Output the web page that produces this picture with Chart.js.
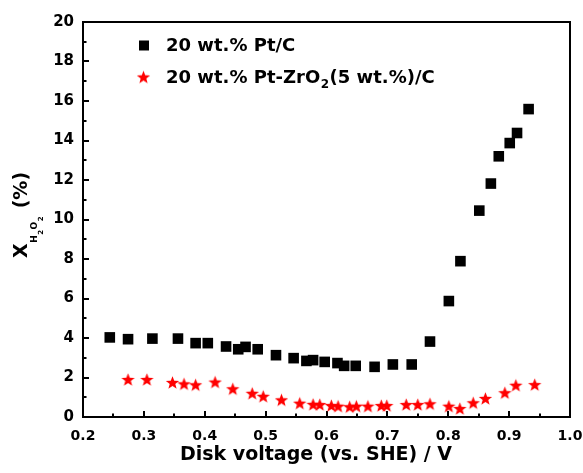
<!DOCTYPE html>
<html>
<head>
<meta charset="utf-8">
<script src="https://cdn.jsdelivr.net/npm/chart.js@4.4.0/dist/chart.umd.min.js"></script>
<style>
  html, body { margin: 0; padding: 0; background: #fff; }
  canvas { display: block; }
</style>
</head>
<body>
<canvas id="chart" width="583" height="473"></canvas>
<script>
// Pt/C (black squares)
const ptcX = [0.244, 0.274, 0.314, 0.356, 0.385, 0.405, 0.435, 0.455, 0.467, 0.487,
              0.517, 0.546, 0.567, 0.578, 0.597, 0.618, 0.629, 0.648, 0.679, 0.709,
              0.740, 0.770, 0.801, 0.820, 0.851, 0.870, 0.883, 0.901, 0.913, 0.932];
const ptcY = [4.03, 3.94, 3.97, 3.97, 3.74, 3.74, 3.57, 3.43, 3.55, 3.43,
              3.13, 2.98, 2.84, 2.88, 2.79, 2.73, 2.59, 2.59, 2.54, 2.66,
              2.66, 3.82, 5.87, 7.89, 10.45, 11.82, 13.2, 13.87, 14.38, 15.59];
// Pt-ZrO2(5 wt.%)/C (red stars)
const zrX = [0.274, 0.305, 0.347, 0.366, 0.385, 0.417, 0.446, 0.478, 0.496, 0.526,
             0.556, 0.578, 0.589, 0.608, 0.619, 0.638, 0.649, 0.668, 0.690, 0.699,
             0.731, 0.750, 0.770, 0.801, 0.819, 0.841, 0.861, 0.893, 0.911, 0.942];
const zrY = [1.90, 1.90, 1.75, 1.68, 1.63, 1.77, 1.43, 1.20, 1.05, 0.87,
             0.70, 0.64, 0.63, 0.58, 0.55, 0.52, 0.55, 0.55, 0.58, 0.58,
             0.63, 0.63, 0.67, 0.55, 0.43, 0.72, 0.94, 1.23, 1.61, 1.64];

const seriesNames = ['20 wt.% Pt/C', '20 wt.% Pt-ZrO', '2', '(5 wt.%)/C'];
const xTitle = 'Disk voltage (vs. SHE) / V';

const FONT = '"DejaVu Sans", "Liberation Sans", Arial, sans-serif';

// filled star used as point style
function makeStar(size, color) {
    const c = document.createElement('canvas');
    c.width = size; c.height = size;
    const g = c.getContext('2d');
    const R = size / 2 - 0.5, r = R * 0.42;
    const cx = size / 2, cy = (size - R * 1.809) / 2 + R;
    g.fillStyle = color;
    g.beginPath();
    for (let i = 0; i < 10; i++) {
        const a = -Math.PI / 2 + i * Math.PI / 5;
        const rad = i % 2 ? r : R;
        const px = cx + rad * Math.cos(a), py = cy + rad * Math.sin(a);
        if (i === 0) g.moveTo(px, py); else g.lineTo(px, py);
    }
    g.closePath();
    g.fill();
    return c;
}
const starImg = makeStar(15, '#ff0000');

const framePlugin = {
    id: 'frame',
    beforeDraw(chart) {
        const ctx = chart.ctx;
        ctx.save();
        ctx.fillStyle = '#fff';
        ctx.fillRect(0, 0, chart.width, chart.height);
        ctx.restore();
    },
    beforeDatasetsDraw(chart) {
        const ctx = chart.ctx;
        const a = chart.chartArea;
        const xs = chart.scales.x, ys = chart.scales.y;
        ctx.save();
        ctx.strokeStyle = '#000';
        ctx.lineWidth = 2;
        ctx.strokeRect(a.left, a.top, a.right - a.left, a.bottom - a.top);
        // inward ticks, major + minor
        ctx.beginPath();
        for (let v = 0; v <= 20.001; v += 1) {
            const py = Math.round(ys.getPixelForValue(v));
            const len = (Math.round(v) % 2 === 0) ? 6 : 3.5;
            ctx.moveTo(a.left, py); ctx.lineTo(a.left + len, py);
        }
        for (let i = 0; i <= 16; i++) {
            const v = 0.2 + i * 0.05;
            const px = Math.round(xs.getPixelForValue(v));
            const len = (i % 2 === 0) ? 6 : 3.5;
            ctx.moveTo(px, a.bottom); ctx.lineTo(px, a.bottom - len);
        }
        ctx.stroke();
        ctx.restore();
    },
    afterDraw(chart) {
        const ctx = chart.ctx;
        ctx.save();
        ctx.fillStyle = '#000';
        ctx.textBaseline = 'alphabetic';

        // legend
        ctx.fillRect(139, 40.5, 10, 10);
        ctx.drawImage(starImg, 143.5 - 7.5, 77 - 7.5);
        ctx.font = 'bold 18px ' + FONT;
        ctx.textAlign = 'left';
        ctx.fillText(seriesNames[0], 166, 50.5);
        let x = 166;
        ctx.fillText(seriesNames[1], x, 82.5);
        x += ctx.measureText(seriesNames[1]).width + 0.5;
        ctx.font = 'bold 12px ' + FONT;
        ctx.fillText(seriesNames[2], x, 87.5);
        x += ctx.measureText(seriesNames[2]).width + 0.5;
        ctx.font = 'bold 18px ' + FONT;
        ctx.fillText(seriesNames[3], x, 82.5);

        // x title
        ctx.textAlign = 'center';
        ctx.font = 'bold 19px ' + FONT;
        ctx.fillText(xTitle, 316, 460);

        // y title: X_{H2O2} (%)
        ctx.translate(27, 258);
        ctx.rotate(-Math.PI / 2);
        ctx.textAlign = 'left';
        let t = 0;
        ctx.font = 'bold 19px ' + FONT;
        ctx.fillText('X', t, 0);
        t += ctx.measureText('X').width + 0.5;
        const parts = [['H', 9, 10], ['2', 7, 16], ['O', 9, 10], ['2', 7, 16]];
        parts.forEach(p => {
            ctx.font = 'bold ' + p[1] + 'px ' + FONT;
            ctx.fillText(p[0], t, p[2]);
            t += ctx.measureText(p[0]).width + 0.5;
        });
        ctx.font = 'bold 19px ' + FONT;
        ctx.fillText(' (%)', t + 1, 0);
        ctx.restore();
    }
};

const tickFont = { family: FONT, size: 14, weight: 'bold' };

new Chart(document.getElementById('chart').getContext('2d'), {
    type: 'scatter',
    data: {
        datasets: [
            {
                label: seriesNames[0],
                data: ptcX.map((x, i) => ({ x: x, y: ptcY[i] })),
                pointStyle: 'rect',
                pointRadius: 7.5,
                backgroundColor: '#000',
                borderColor: '#000',
                borderWidth: 0
            },
            {
                label: seriesNames[1] + seriesNames[2] + seriesNames[3],
                data: zrX.map((x, i) => ({ x: x, y: zrY[i] })),
                pointStyle: starImg,
                backgroundColor: '#ff0000',
                borderColor: '#ff0000'
            }
        ]
    },
    options: {
        responsive: false,
        animation: false,
        devicePixelRatio: 1,
        layout: { padding: { top: 22, right: 13, left: 0, bottom: 0 } },
        plugins: { legend: { display: false }, tooltip: { enabled: false } },
        scales: {
            x: {
                type: 'linear',
                min: 0.2,
                max: 1.0,
                ticks: {
                    stepSize: 0.1,
                    color: '#000',
                    font: tickFont,
                    padding: 11,
                    callback: v => v.toFixed(1)
                },
                grid: { display: false, drawTicks: false },
                border: { display: false },
                afterFit: s => { s.height = 56; s.paddingLeft = 0; s.paddingRight = 0; }
            },
            y: {
                min: 0,
                max: 20,
                ticks: {
                    stepSize: 2,
                    color: '#000',
                    font: { family: FONT, size: 15, weight: 'bold' },
                    padding: 9
                },
                grid: { display: false, drawTicks: false },
                border: { display: false },
                afterFit: s => { s.width = 83; s.paddingTop = 0; s.paddingBottom = 0; }
            }
        }
    },
    plugins: [framePlugin]
});
</script>
</body>
</html>
